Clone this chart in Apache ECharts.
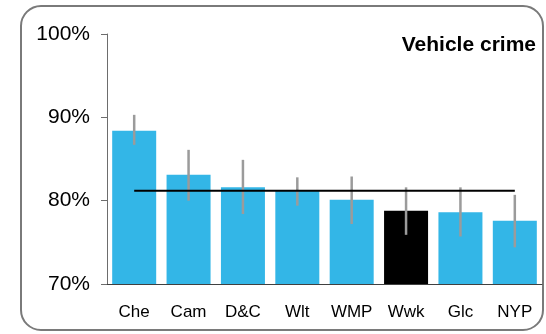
<!DOCTYPE html>
<html><head><meta charset="utf-8">
<script src="https://cdn.jsdelivr.net/npm/echarts@6/dist/echarts.min.js"></script>
<style>html,body{margin:0;padding:0;background:#fff}#c{width:546px;height:334px}</style>
</head><body><div id="c"></div>
<script>
var categories = ['Che','Cam','D&C','Wlt','WMP','Wwk','Glc','NYP'];
var values = [88.4, 83.1, 81.6, 81.2, 80.1, 78.8, 78.6, 77.6];
var errLow = [86.7, 80.0, 78.4, 79.4, 77.2, 75.9, 75.7, 74.4];
var errHigh = [90.3, 86.1, 84.9, 82.8, 82.9, 81.6, 81.6, 80.7];
var average = [81.2, 81.2, 81.2, 81.2, 81.2, 81.2, 81.2, 81.2];
var highlight = 'Wwk';
var yTicks = [70, 80, 90, 100];

var chart = echarts.init(document.getElementById('c'));
var FONT = 'Liberation Sans, Arial, sans-serif';
chart.setOption({
  animation: false,
  graphic: [{
    type: 'rect', z: -1,
    shape: {x: 21, y: 6, width: 522, height: 324, r: 20},
    style: {fill: 'none', stroke: '#7a7a7a', lineWidth: 2}
  }],
  title: {
    text: 'Vehicle crime', right: 5, top: 30,
    textStyle: {fontFamily: FONT, fontWeight: 'bold', fontSize: 21, color: '#000'}
  },
  grid: {left: 107, right: 4, top: 34, bottom: 50},
  xAxis: {
    type: 'category', data: categories,
    axisLine: {lineStyle: {color: '#404040', width: 1}},
    axisTick: {show: false},
    axisLabel: {fontFamily: FONT, fontSize: 17, color: '#000', margin: 20}
  },
  yAxis: {
    type: 'value', min: yTicks[0], max: yTicks[yTicks.length-1], interval: 10,
    axisLine: {show: true, lineStyle: {color: '#6d6d6d', width: 1}},
    axisTick: {show: true, length: 6, lineStyle: {color: '#6d6d6d'}},
    splitLine: {show: false},
    axisLabel: {fontFamily: FONT, fontSize: 21, color: '#000', margin: 17,
      formatter: function(v){ return v + '%'; }}
  },
  series: [{
    type: 'bar', barWidth: 44,
    data: values.map(function(v, i){
      return {value: v, itemStyle: {color: categories[i] === highlight ? '#000000' : '#33b6e7'}};
    })
  }, {
    type: 'custom',
    data: categories.map(function(c, i){ return [i, errLow[i], errHigh[i]]; }),
    renderItem: function(params, api){
      var p1 = api.coord([api.value(0), api.value(1)]);
      var p2 = api.coord([api.value(0), api.value(2)]);
      return {type: 'line', shape: {x1: p1[0], y1: p1[1], x2: p2[0], y2: p2[1]},
        style: {stroke: '#9b9b9b', lineWidth: 2.5}};
    },
    z: 3
  }, {
    type: 'line', data: average, symbol: 'none',
    lineStyle: {color: '#000', width: 2}, z: 4
  }]
});
</script></body></html>
